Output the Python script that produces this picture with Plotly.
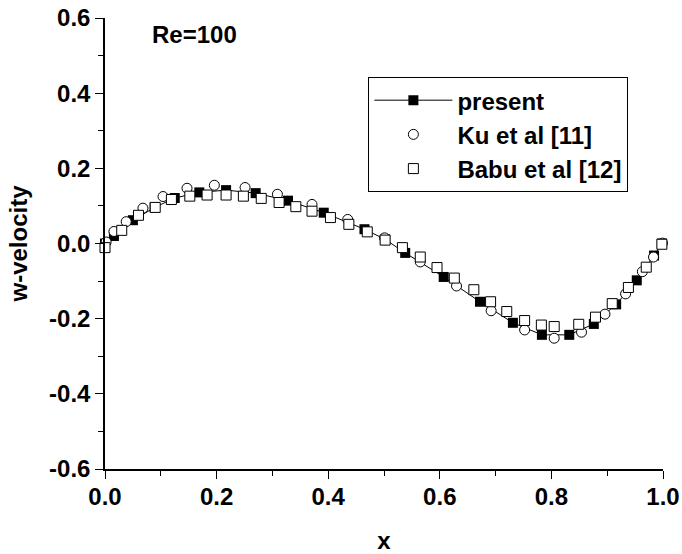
import plotly.graph_objects as go

# ---- data ----
present_x = [0.0, 0.016, 0.050, 0.089, 0.125, 0.169, 0.217, 0.270, 0.328, 0.392, 0.465, 0.502,
             0.538, 0.607, 0.672, 0.731, 0.783, 0.832, 0.876, 0.916, 0.953, 0.984, 0.998]
present_y = [0.0, 0.020, 0.062, 0.096, 0.121, 0.136, 0.142, 0.134, 0.114, 0.082, 0.038, 0.011,
             -0.025, -0.089, -0.155, -0.211, -0.243, -0.243, -0.214, -0.162, -0.098, -0.032, 0.0]

ku_x = [0.002, 0.016, 0.038, 0.068, 0.104, 0.147, 0.196, 0.251, 0.309, 0.371, 0.435, 0.501,
        0.565, 0.630, 0.692, 0.752, 0.805, 0.854, 0.896, 0.933, 0.963, 0.983, 0.999]
ku_y = [0.004, 0.032, 0.058, 0.094, 0.125, 0.147, 0.155, 0.149, 0.131, 0.104, 0.064, 0.015,
        -0.049, -0.113, -0.179, -0.230, -0.252, -0.236, -0.188, -0.134, -0.075, -0.036, 0.001]

babu_x = [0.0, 0.030, 0.060, 0.090, 0.119, 0.152, 0.183, 0.217, 0.248, 0.280, 0.312, 0.342,
          0.371, 0.404, 0.437, 0.470, 0.502, 0.533, 0.565, 0.595, 0.626, 0.661, 0.691, 0.720,
          0.752, 0.782, 0.805, 0.849, 0.879, 0.909, 0.938, 0.970, 0.998]
babu_y = [-0.011, 0.035, 0.075, 0.096, 0.117, 0.126, 0.129, 0.129, 0.126, 0.120, 0.109, 0.098,
          0.086, 0.069, 0.051, 0.031, 0.009, -0.011, -0.036, -0.064, -0.092, -0.123, -0.155, -0.181,
          -0.205, -0.217, -0.221, -0.215, -0.196, -0.160, -0.117, -0.063, -0.002]

x_ticks = [0.0, 0.2, 0.4, 0.6, 0.8, 1.0]
x_ticklabels = ["0.0", "0.2", "0.4", "0.6", "0.8", "1.0"]
y_ticks = [-0.6, -0.4, -0.2, 0.0, 0.2, 0.4, 0.6]
y_ticklabels = ["-0.6", "-0.4", "-0.2", "0.0", "0.2", "0.4", "0.6"]

FONT = "Liberation Sans, Arial, sans-serif"
FS = 24

fig = go.Figure()
fig.add_trace(go.Scatter(
    x=present_x, y=present_y, mode="lines+markers", name="present",
    line=dict(color="black", width=1),
    marker=dict(symbol="square", size=10, color="black"),
    cliponaxis=False))
fig.add_trace(go.Scatter(
    x=ku_x, y=ku_y, mode="markers", name="Ku et al [11]",
    marker=dict(symbol="circle", size=10, color="white", line=dict(color="black", width=1)),
    cliponaxis=False))
fig.add_trace(go.Scatter(
    x=babu_x, y=babu_y, mode="markers", name="Babu et al [12]",
    marker=dict(symbol="square", size=10, color="white", line=dict(color="black", width=1)),
    cliponaxis=False))

axis_common = dict(
    showline=True, linecolor="black", linewidth=1.5, mirror=False,
    showgrid=False, zeroline=False, automargin=False, ticklabeloverflow="allow",
    ticks="outside", ticklen=8, tickwidth=1.2, tickcolor="black",
    tickfont=dict(family=FONT, size=FS, color="black", weight="bold"),
)

fig.update_xaxes(
    range=[0, 1], tickvals=x_ticks, ticktext=x_ticklabels, ticklabelstandoff=-3,
    minor=dict(dtick=0.1, tick0=0, ticks="outside", ticklen=5, tickwidth=1, tickcolor="black"),
    title=dict(text="x", font=dict(family=FONT, size=FS, color="black", weight="bold"), standoff=29),
    **axis_common)
fig.update_yaxes(
    range=[-0.6, 0.6], tickvals=y_ticks, ticktext=y_ticklabels,
    minor=dict(dtick=0.1, tick0=0, ticks="outside", ticklen=5, tickwidth=1, tickcolor="black"),
    title=dict(text="w-velocity", font=dict(family=FONT, size=FS, color="black", weight="bold"), standoff=15),
    **axis_common)

fig.add_annotation(
    x=0.08, y=0.555, xref="x", yref="y", text="Re=100", showarrow=False,
    xanchor="left", yanchor="middle",
    font=dict(family=FONT, size=FS, color="black", weight="bold"))

fig.update_layout(
    width=682, height=554,
    margin=dict(l=105, r=19, t=18, b=85),
    plot_bgcolor="white", paper_bgcolor="white",
    showlegend=True,
    legend=dict(
        x=0.472, y=0.869, xanchor="left", yanchor="top",
        bgcolor="white", bordercolor="black", borderwidth=1,
        font=dict(family=FONT, size=FS, color="black", weight="bold"),
        itemwidth=78, traceorder="normal",
    ),
)

# remove the browser's default 8px body margin so the figure fills the window
fig.write_html("out.html", config={"displayModeBar": False},
               post_script="document.body.style.margin='0';")
